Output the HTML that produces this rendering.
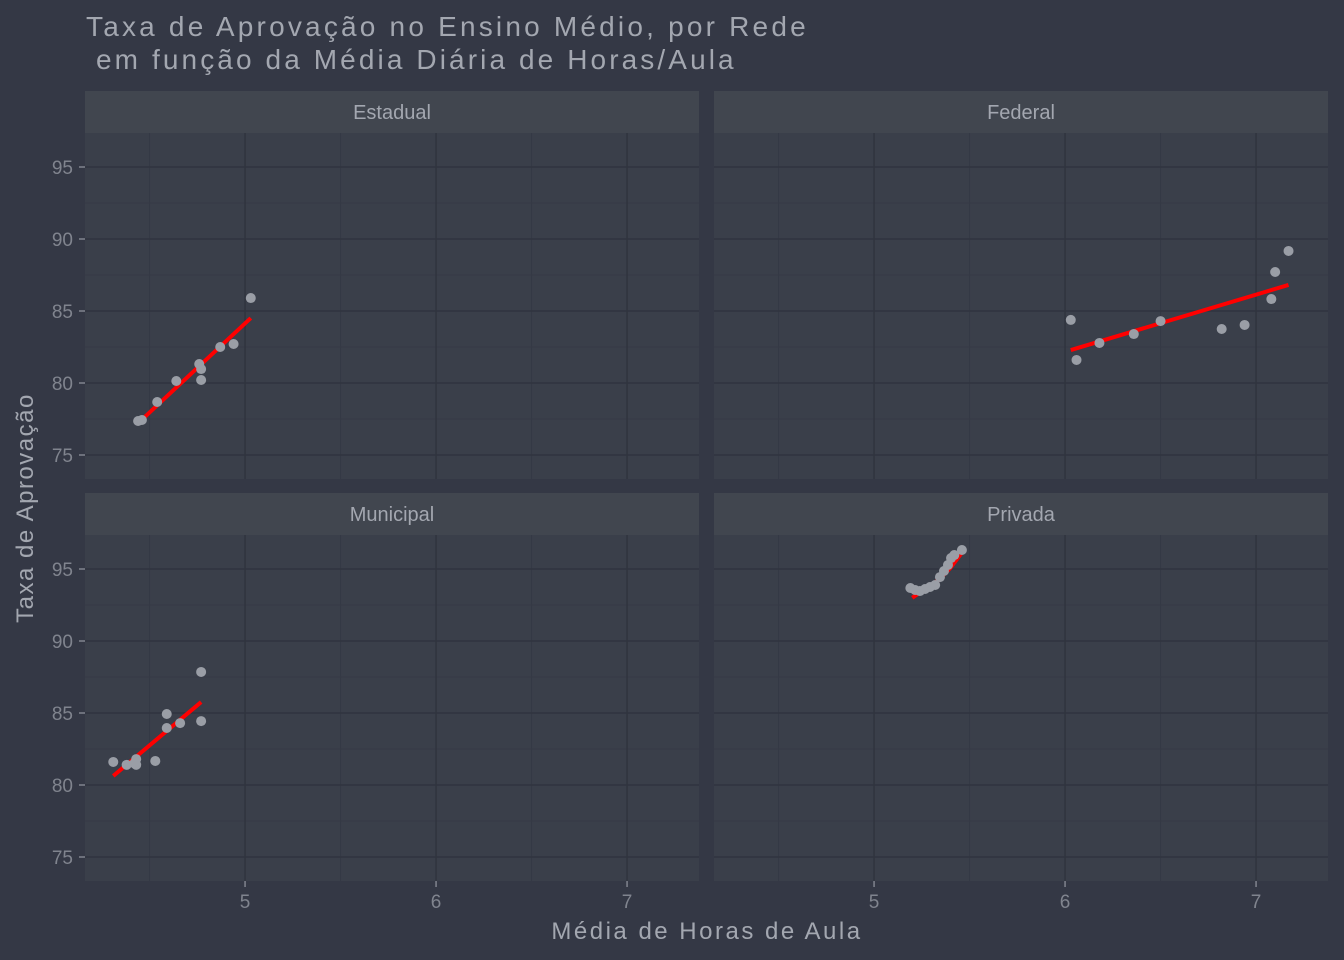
<!DOCTYPE html>
<html><head><meta charset="utf-8"><style>
body{margin:0;background:#343845;}
svg{display:block;font-family:"Liberation Sans",sans-serif;}
</style></head><body>
<svg id="chart" width="1344" height="960">
<rect width="1344" height="960" fill="#343845"/>
<text x="86" y="36" font-size="28" letter-spacing="3.2" fill="#a3a7b0">Taxa de Aprovação no Ensino Médio, por Rede</text>
<text x="96" y="69" font-size="28" letter-spacing="3.1" fill="#a3a7b0">em função da Média Diária de Horas/Aula</text>
<text x="707" y="939" font-size="24" letter-spacing="2.5" fill="#a3a7b0" text-anchor="middle">Média de Horas de Aula</text>
<text transform="translate(33,508) rotate(-90)" font-size="24" letter-spacing="1.5" fill="#a3a7b0" text-anchor="middle">Taxa de Aprovação</text>
</svg>
<script>
const panelNames=["Estadual","Federal","Municipal","Privada"];
const xTicks=[5,6,7];
const yTicks=[75,80,85,90,95];
const estX=[4.44,4.46,4.54,4.64,4.76,4.77,4.77,4.87,4.94,5.03];
const estY=[77.36,77.43,78.68,80.14,81.32,80.21,80.97,82.5,82.71,85.9];
const estFitX=[4.435,5.03];
const estFitY=[77.15,84.51];
const fedX=[6.03,6.06,6.18,6.36,6.50,6.82,6.94,7.08,7.10,7.17];
const fedY=[84.38,81.6,82.78,83.4,84.3,83.75,84.03,85.83,87.71,89.17];
const fedFitX=[6.03,7.17];
const fedFitY=[82.29,86.81];
const munX=[4.31,4.38,4.42,4.43,4.43,4.53,4.59,4.59,4.66,4.77,4.77];
const munY=[81.6,81.4,81.5,81.8,81.4,81.67,84.93,83.96,84.3,87.85,84.44];
const munFitX=[4.31,4.77];
const munFitY=[80.63,85.76];
const priX=[5.19,5.215,5.24,5.267,5.293,5.32,5.345,5.366,5.387,5.403,5.42,5.46];
const priY=[93.68,93.54,93.47,93.61,93.75,93.89,94.44,94.86,95.28,95.76,95.97,96.32];
const priFitX=[5.2,5.26,5.34,5.40,5.46];
const priFitY=[93.0,93.55,94.25,95.08,96.13];

const NS="http://www.w3.org/2000/svg";
const svg=document.getElementById('chart');
function mk(tag,attrs,parent){const e=document.createElementNS(NS,tag);for(const k in attrs)e.setAttribute(k,attrs[k]);(parent||svg).appendChild(e);return e;}
const panels=[{l:85,t:133},{l:714,t:133},{l:85,t:535},{l:714,t:535}];
const PW=614,PH=346;
const series=[[estX,estY,estFitX,estFitY],[fedX,fedY,fedFitX,fedFitY],[munX,munY,munFitX,munFitY],[priX,priY,priFitX,priFitY]];
const xmin=4.162,xmax=xmin+PW/191;
const ymax=95+34/14.4,ymin=ymax-PH/14.4;
panels.forEach((p,i)=>{
  const xs=v=>p.l+(v-xmin)/(xmax-xmin)*PW;
  const ys=v=>p.t+(ymax-v)/(ymax-ymin)*PH;
  const g=mk('g',{});
  
  
  const st=mk('rect',{x:p.l,y:p.t-42,width:PW,height:42,fill:'#41464f'},g);
  
  
  const stt=mk('text',{x:p.l+PW/2,y:p.t-14,'font-size':20,fill:'#a3a7b0','text-anchor':'middle'},g);
  stt.textContent=panelNames[i];
  
  
  mk('rect',{x:p.l,y:p.t,width:PW,height:PH,fill:'#3a3f4a'},g);
  for(let v=4.5;v<xmax;v+=1){mk('line',{x1:xs(v),x2:xs(v),y1:p.t,y2:p.t+PH,stroke:'#353945','stroke-width':1},g);}
  for(let v=72.5;v<ymax;v+=5){if(v>ymin)mk('line',{x1:p.l,x2:p.l+PW,y1:ys(v),y2:ys(v),stroke:'#353945','stroke-width':1},g);}
  xTicks.forEach(v=>{const e=mk('line',{x1:xs(v),x2:xs(v),y1:p.t,y2:p.t+PH,stroke:'#30343f','stroke-width':1.5},g);
    });
  yTicks.forEach(v=>{const e=mk('line',{x1:p.l,x2:p.l+PW,y1:ys(v),y2:ys(v),stroke:'#30343f','stroke-width':1.5},g);
    });
  if(i%2==0){yTicks.forEach(v=>{
    mk('line',{x1:p.l-6,x2:p.l,y1:ys(v),y2:ys(v),stroke:'#80848e','stroke-width':1.5},g);
    const t=mk('text',{x:p.l-12,y:ys(v)+7,'font-size':19,fill:'#80848e','text-anchor':'end'},g);t.textContent=v;
    });}
  if(i>=2){xTicks.forEach(v=>{
    mk('line',{x1:xs(v),x2:xs(v),y1:p.t+PH,y2:p.t+PH+6,stroke:'#80848e','stroke-width':1.5},g);
    const t=mk('text',{x:xs(v),y:p.t+PH+27,'font-size':19,fill:'#80848e','text-anchor':'middle'},g);t.textContent=v;
    });}
  const [px,py,fx,fy]=series[i];
  const fit=mk('polyline',{points:fx.map((v,j)=>xs(v)+','+ys(fy[j])).join(' '),fill:'none',stroke:'#ff0000','stroke-width':4},g);
  
  
  px.forEach((v,j)=>{const c=mk('circle',{cx:xs(v),cy:ys(py[j]),r:5,fill:'#9a9ea6'},g);
    });
});
</script>
</body></html>
